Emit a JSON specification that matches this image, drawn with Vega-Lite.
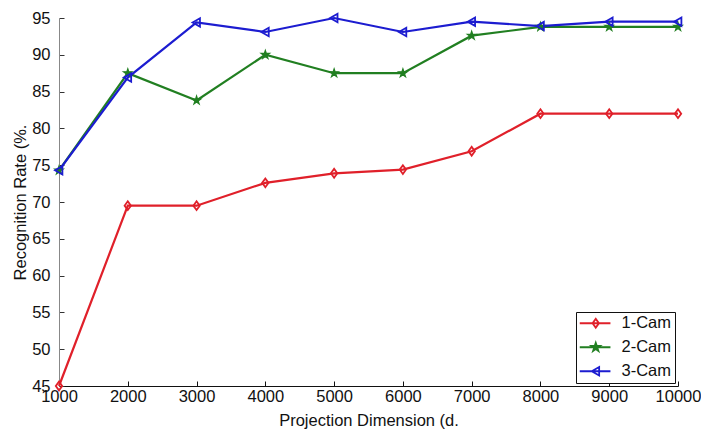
{
  "$schema": "https://vega.github.io/schema/vega-lite/v6.json",
  "width": 619,
  "height": 368,
  "autosize": {"type": "none"},
  "padding": {"left": 59, "top": 18, "right": 23, "bottom": 47},
  "background": "white",
  "config": {
    "view": {"stroke": null},
    "font": "Liberation Sans",
    "axis": {
      "grid": false,
      "labelFont": "Liberation Sans",
      "labelFontSize": 16.5,
      "labelColor": "#111",
      "titleFont": "Liberation Sans",
      "titleFontSize": 16.5,
      "titleFontWeight": "normal",
      "titleColor": "#111",
      "tickSize": -5,
      "labelFlush": false,
      "labelOverlap": false
    }
  },
  "data": {
    "values": [
      {"d": 1000, "rate": 45.0, "series": "1-Cam"},
      {"d": 2000, "rate": 69.5, "series": "1-Cam"},
      {"d": 3000, "rate": 69.5, "series": "1-Cam"},
      {"d": 4000, "rate": 72.6, "series": "1-Cam"},
      {"d": 5000, "rate": 73.9, "series": "1-Cam"},
      {"d": 6000, "rate": 74.4, "series": "1-Cam"},
      {"d": 7000, "rate": 76.9, "series": "1-Cam"},
      {"d": 8000, "rate": 82.0, "series": "1-Cam"},
      {"d": 9000, "rate": 82.0, "series": "1-Cam"},
      {"d": 10000, "rate": 82.0, "series": "1-Cam"},
      {"d": 1000, "rate": 74.3, "series": "2-Cam"},
      {"d": 2000, "rate": 87.5, "series": "2-Cam"},
      {"d": 3000, "rate": 83.8, "series": "2-Cam"},
      {"d": 4000, "rate": 90.0, "series": "2-Cam"},
      {"d": 5000, "rate": 87.5, "series": "2-Cam"},
      {"d": 6000, "rate": 87.5, "series": "2-Cam"},
      {"d": 7000, "rate": 92.6, "series": "2-Cam"},
      {"d": 8000, "rate": 93.8, "series": "2-Cam"},
      {"d": 9000, "rate": 93.8, "series": "2-Cam"},
      {"d": 10000, "rate": 93.8, "series": "2-Cam"},
      {"d": 1000, "rate": 74.3, "series": "3-Cam"},
      {"d": 2000, "rate": 86.9, "series": "3-Cam"},
      {"d": 3000, "rate": 94.4, "series": "3-Cam"},
      {"d": 4000, "rate": 93.1, "series": "3-Cam"},
      {"d": 5000, "rate": 95.0, "series": "3-Cam"},
      {"d": 6000, "rate": 93.1, "series": "3-Cam"},
      {"d": 7000, "rate": 94.5, "series": "3-Cam"},
      {"d": 8000, "rate": 93.9, "series": "3-Cam"},
      {"d": 9000, "rate": 94.5, "series": "3-Cam"},
      {"d": 10000, "rate": 94.5, "series": "3-Cam"}
    ]
  },
  "encoding": {
    "x": {
      "field": "d",
      "type": "quantitative",
      "scale": {"domain": [1000, 10000], "nice": false, "zero": false},
      "axis": {
        "title": "Projection Dimension (d.",
        "values": [1000, 2000, 3000, 4000, 5000, 6000, 7000, 8000, 9000, 10000],
        "format": "d",
        "domainColor": "#111",
        "tickColor": "#111",
        "labelPadding": 7,
        "titlePadding": 8
      }
    },
    "y": {
      "field": "rate",
      "type": "quantitative",
      "scale": {"domain": [45, 95], "nice": false, "zero": false},
      "axis": {
        "title": "Recognition Rate (%.",
        "values": [45, 50, 55, 60, 65, 70, 75, 80, 85, 90, 95],
        "domainColor": "#888",
        "tickColor": "#333",
        "labelPadding": 14,
        "titlePadding": 3
      }
    }
  },
  "layer": [
    {
      "mark": {"type": "line", "strokeWidth": 2.2},
      "encoding": {
        "color": {
          "field": "series",
          "type": "nominal",
          "scale": {"domain": ["1-Cam", "2-Cam", "3-Cam"], "range": ["#e0202a", "#217f21", "#1c1cd0"]},
          "legend": {
            "title": null,
            "orient": "none",
            "legendX": 517,
            "legendY": 294,
            "padding": 3,
            "rowPadding": 7,
            "strokeColor": "#111",
            "fillColor": "white",
            "cornerRadius": 0,
            "symbolSize": 64,
            "symbolStrokeWidth": 1.8,
            "labelFont": "Liberation Sans",
            "labelFontSize": 16.5,
            "labelColor": "#111",
            "labelOffset": 26,
            "encode": {
              "symbols": {
                "update": {
                  "shape": {"signal": "datum.value === '1-Cam' ? 'M-1.875,0L5.8,0M2.125,-1.1L2.925,0L2.125,1.1L1.325,0Z' : datum.value === '2-Cam' ? 'M-1.875,0L5.8,0M2.125,-1.1L2.375,-0.34L3.175,-0.34L2.525,0.13L2.775,0.89L2.125,0.42L1.475,0.89L1.725,0.13L1.075,-0.34L1.875,-0.34Z' : 'M-1.875,0L5.8,0M1.125,0L2.975,-1.05L2.975,1.05Z'"},
                  "fill": {"signal": "datum.value === '2-Cam' ? '#217f21' : 'transparent'"},
                  "size": {"value": 64},
                  "strokeWidth": {"value": 1.8}
                }
              }
            }
          }
        }
      }
    },
    {
      "transform": [{"filter": "datum.series === '1-Cam'"}],
      "mark": {"type": "point", "size": 64, "strokeWidth": 1.8, "opacity": 1, "filled": false, "color": "#e0202a", "shape": "M0,-1.1L0.8,0L0,1.1L-0.8,0Z"},
      "encoding": {}
    },
    {
      "transform": [{"filter": "datum.series === '2-Cam'"}],
      "mark": {"type": "point", "size": 64, "strokeWidth": 1.2, "opacity": 1, "filled": true, "color": "#217f21", "stroke": "#217f21", "shape": "M0,-1.1L0.25,-0.34L1.05,-0.34L0.4,0.13L0.65,0.89L0,0.42L-0.65,0.89L-0.4,0.13L-1.05,-0.34L-0.25,-0.34Z"},
      "encoding": {}
    },
    {
      "transform": [{"filter": "datum.series === '3-Cam'"}],
      "mark": {"type": "point", "size": 64, "strokeWidth": 1.8, "opacity": 1, "filled": false, "color": "#1c1cd0", "shape": "M-1,0L0.85,-1.05L0.85,1.05Z"},
      "encoding": {}
    }
  ]
}
